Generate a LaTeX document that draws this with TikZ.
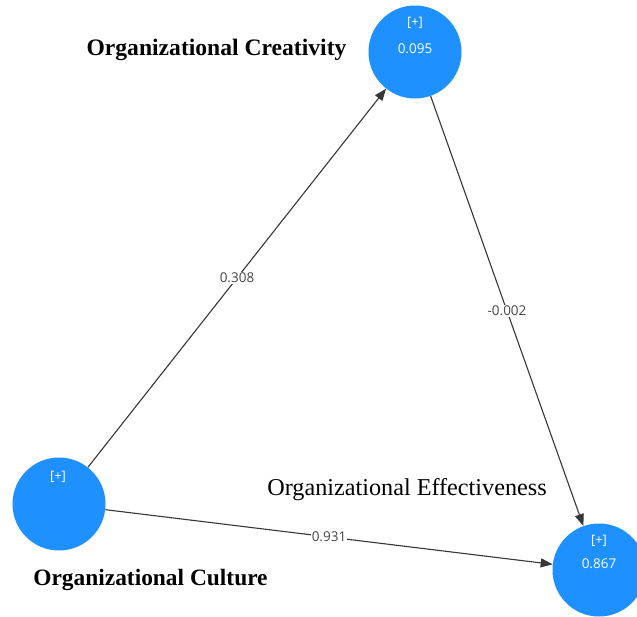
\documentclass[tikz,border=0pt]{standalone}
\usepackage{fontspec}
\setmainfont{Liberation Serif}
\newfontfamily\numfont{Open Sans}
\usetikzlibrary{arrows.meta}
\definecolor{nodeblue}{RGB}{30,144,255}
\definecolor{edgegray}{RGB}{55,55,55}
\definecolor{lblgray}{RGB}{70,70,70}
\begin{document}
\begin{tikzpicture}[x=1pt,y=-1pt,
  latent/.style={circle,fill=nodeblue,draw=none,minimum size=93pt,inner sep=0pt},
  plus/.style={text=white,font=\numfont\fontsize{13}{15}\selectfont,inner sep=0pt},
  rsq/.style={text=white,font=\numfont\fontsize{13.5}{15}\selectfont,inner sep=0pt},
  path/.style={draw=edgegray,line width=1.1pt,-{Triangle[length=12pt,width=9pt]},shorten >=0pt},
  coef/.style={fill=white,text=lblgray,font=\numfont\fontsize{13.5}{15}\selectfont,inner sep=1pt},
  cname/.style={text=black,inner sep=0pt}
]
\useasboundingbox (0,0) rectangle (637,616);
\fill[white] (0,0) rectangle (637,616);

\node[latent] (cre) at (415,52) {};
\node[latent] (cul) at (59,504) {};
\node[latent] (eff) at (599,570) {};

\node[plus] (crep) at (415,23) {[+]};
\node[rsq]  (crev) at (415,49) {0.095};
\node[plus] (culp) at (58,477) {[+]};
\node[plus] (effp) at (599,541) {[+]};
\node[rsq]  (effv) at (599,564) {0.867};

\draw[path] (cul) -- node[coef] (c1) {0.308} (cre);
\draw[path] (cre) -- node[coef] (c2) {-0.002} (eff);
\draw[path] (cul) -- node[coef] (c3) {0.931} (eff);

\node[cname,font=\bfseries\fontsize{23.6}{28}\selectfont] (lcre) at (216.5,50) {Organizational Creativity};
\node[cname,font=\fontsize{24.2}{28}\selectfont] (leff) at (407,490) {Organizational Effectiveness};
\node[cname,font=\bfseries\fontsize{23.4}{28}\selectfont] (lcul) at (150.5,580) {Organizational Culture};
\end{tikzpicture}
\end{document}
